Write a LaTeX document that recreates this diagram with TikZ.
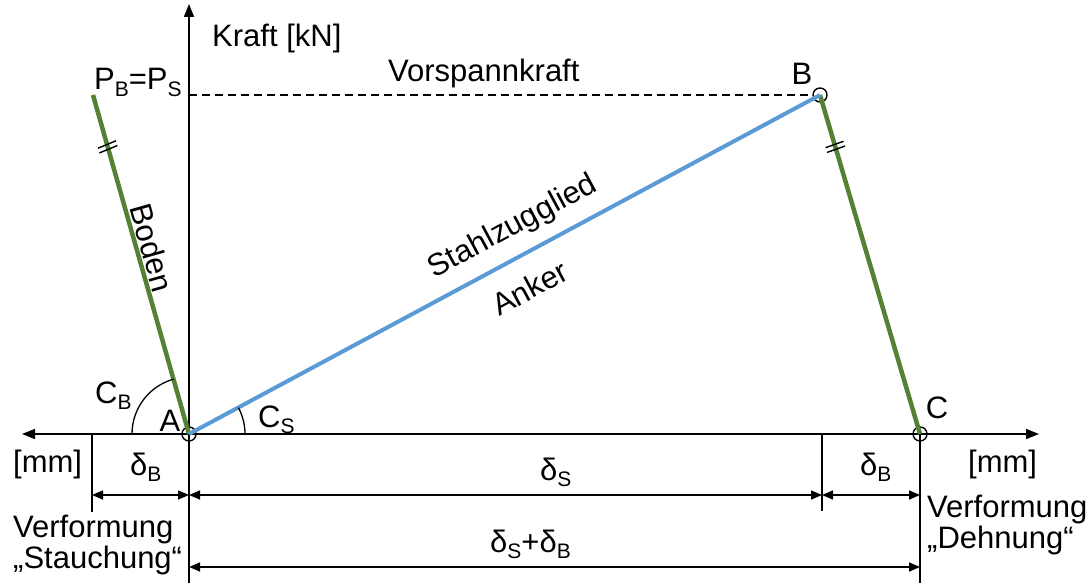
\documentclass[tikz,border=0pt]{standalone}
\usepackage{fontspec}
\setmainfont{Liberation Sans}
\usetikzlibrary{arrows.meta,calc}
\definecolor{bodengruen}{RGB}{84,130,53}
\definecolor{ankerblau}{RGB}{91,155,213}
\newcommand{\ix}[1]{\raisebox{-6.5pt}{\fontsize{21}{23}\selectfont #1}}

\begin{document}
\begin{tikzpicture}[x=1pt,y=1pt,font=\fontsize{31}{35}\selectfont,
  txt/.style={inner sep=0pt},
  pkt/.style={draw,circle,inner sep=0pt,minimum size=14pt,line width=1.4pt},
  achse/.style={line width=1.6pt,>={Triangle[length=13pt,width=10pt]}},
  mass/.style={line width=1.5pt,<->,>={Triangle[length=11pt,width=9pt]}},
  hilf/.style={line width=1.5pt},
  boden/.style={line width=4.5pt,bodengruen},
  anker/.style={line width=4pt,ankerblau}]
\useasboundingbox (0,0) rectangle (1091,-583);
\node[pkt] (A) at (189,-434) {};
\node[pkt] (B) at (820,-95) {};
\node[pkt] (C) at (920,-434) {};
\coordinate (PB) at (93,-95);
\coordinate (Ybot) at (189,-583); \coordinate (Ytop) at (189,-4);
\coordinate (Xl) at (22,-434); \coordinate (Xr) at (1039,-434);
\coordinate (d1) at (92,-495); \coordinate (d2) at (189,-495);
\coordinate (d3) at (822,-495); \coordinate (d4) at (920,-495);
\coordinate (e1) at (189,-567); \coordinate (e2) at (920,-567);
\draw[achse,->] (Ybot)--(Ytop);
\draw[achse,<->] (Xl)--(Xr);
\draw[line width=1.4pt,dash pattern=on 8pt off 5pt] (A|-B)--(B.west);
\draw[boden] (PB)--(A.center); \draw[boden] (B.center)--(C.center);
\draw[anker] (A.center)--(B.center);
\foreach \p in {0.146,0.160}{
  \draw[line width=1.4pt] ($(PB)!\p!(A)$) +(-9,-3.7)--+(9,3.7);
  \draw[line width=1.4pt] ($(B)!\p!(C)$) +(-9,-3.2)--+(9,3.2);}
\draw[line width=1.3pt] ([shift={(180:57)}]A.center) arc[start angle=180,end angle=105.8,radius=57];
\draw[line width=1.3pt] ([shift={(0:56)}]A.center) arc[start angle=0,end angle=28.2,radius=56];
\draw[hilf] (d1|-A)--++(0,-78); \draw[hilf] (d3|-A)--++(0,-77);
\draw[hilf] (C.center)--(C|-Ybot);
\draw[mass] (d1)--(d2); \draw[mass] (d2)--(d3); \draw[mass] (d3)--(d4);
\draw[mass] (e1)--(e2);
\node[txt,anchor=base west] (kraft) at (212,-47) {Kraft [kN]};
\node[txt,anchor=base west] (pbps) at (94,-90) {P\ix{B}=P\ix{S}};
\node[txt,anchor=base west] (vorsp) at (388,-82) {Vorspannkraft};
\node[txt,anchor=base] (lB) at (802,-85) {B};
\node[txt,anchor=base] (lC) at (937,-418) {C};
\node[txt,anchor=base] (lA) at (170,-431) {A};
\node[txt,anchor=base west] (cb) at (95,-403) {C\ix{B}};
\node[txt,anchor=base west] (cs) at (258,-427) {C\ix{S}};
\node[txt,rotate=28.2] (stahl) at (513,-227) {Stahlzugglied};
\node[txt,rotate=28.2] (ank) at (530,-288) {Anker};
\node[txt,rotate=-74.2] (bod) at (152,-248) {Boden};
\node[txt,anchor=base west] (mml) at (13,-472) {[mm]};
\node[txt,anchor=base west] (mmr) at (968,-472) {[mm]};
\node[txt,anchor=base west] (db1) at (130,-475) {δ\ix{B}};
\node[txt,anchor=base west] (ds) at (540,-480) {δ\ix{S}};
\node[txt,anchor=base west] (db2) at (860,-475) {δ\ix{B}};
\node[txt,anchor=base west] (dsb) at (490,-552) {δ\ix{S}+δ\ix{B}};
\node[txt,anchor=base west] (vl1) at (13,-537) {Verformung};
\node[txt,anchor=base west] (vl2) at (13,-568) {„Stauchung“};
\node[txt,anchor=base west] (vr1) at (927,-517) {Verformung};
\node[txt,anchor=base west] (vr2) at (927,-548) {„Dehnung“};
\end{tikzpicture}
\end{document}
